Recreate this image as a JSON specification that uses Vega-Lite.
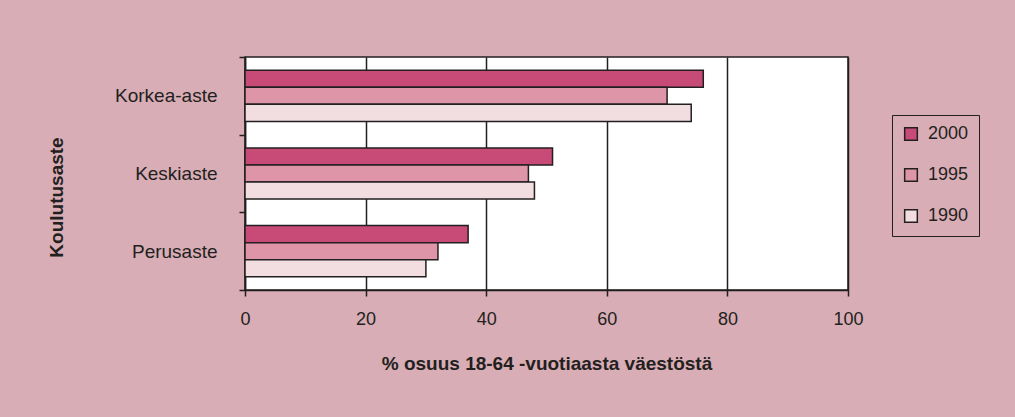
{
  "$schema": "https://vega.github.io/schema/vega-lite/v6.json",
  "width": 603,
  "height": 233,
  "autosize": {"type": "none"},
  "padding": {"left": 245, "top": 57, "right": 167, "bottom": 127},
  "background": "#d8adb5",
  "config": {
    "font": "Liberation Sans",
    "view": {"fill": "#ffffff", "stroke": "#231f20", "strokeWidth": 1.5},
    "axis": {"domainColor": "#231f20", "tickColor": "#231f20", "labelColor": "#231f20", "titleColor": "#231f20", "domainWidth": 1.5, "tickWidth": 1.5}
  },
  "data": {
    "values": [
      {"koulutusaste": "Korkea-aste", "vuosi": "2000", "osuus": 76},
      {"koulutusaste": "Korkea-aste", "vuosi": "1995", "osuus": 70},
      {"koulutusaste": "Korkea-aste", "vuosi": "1990", "osuus": 74},
      {"koulutusaste": "Keskiaste", "vuosi": "2000", "osuus": 51},
      {"koulutusaste": "Keskiaste", "vuosi": "1995", "osuus": 47},
      {"koulutusaste": "Keskiaste", "vuosi": "1990", "osuus": 48},
      {"koulutusaste": "Perusaste", "vuosi": "2000", "osuus": 37},
      {"koulutusaste": "Perusaste", "vuosi": "1995", "osuus": 32},
      {"koulutusaste": "Perusaste", "vuosi": "1990", "osuus": 30}
    ]
  },
  "mark": {"type": "bar", "stroke": "#231f20", "strokeWidth": 1.5, "cornerRadius": 0},
  "encoding": {
    "y": {
      "field": "koulutusaste",
      "type": "nominal",
      "sort": ["Korkea-aste", "Keskiaste", "Perusaste"],
      "scale": {"paddingInner": 0, "paddingOuter": 0},
      "axis": {
        "title": "Koulutusaste",
        "titleFontSize": 19,
        "titleFontWeight": "bold",
        "titlePadding": 48,
        "titleY": 140,
        "labelFontSize": 19,
        "labelFontWeight": "normal",
        "labelPadding": 22,
        "tickSize": 6,
        "tickBand": "extent",
        "grid": false
      }
    },
    "yOffset": {
      "field": "vuosi",
      "type": "nominal",
      "sort": ["2000", "1995", "1990"],
      "scale": {"paddingInner": 0, "paddingOuter": 0.78}
    },
    "x": {
      "field": "osuus",
      "type": "quantitative",
      "scale": {"domain": [0, 100], "nice": false},
      "axis": {
        "title": "% osuus 18-64 -vuotiaasta väestöstä",
        "titleFontSize": 19,
        "titleFontWeight": "bold",
        "titlePadding": 26,
        "labelFontSize": 18,
        "labelPadding": 14,
        "labelFlush": false,
        "tickSize": 6,
        "values": [0, 20, 40, 60, 80, 100],
        "grid": true,
        "gridColor": "#231f20",
        "gridWidth": 1.5,
        "gridOpacity": 1
      }
    },
    "fill": {
      "field": "vuosi",
      "type": "nominal",
      "sort": ["2000", "1995", "1990"],
      "scale": {"domain": ["2000", "1995", "1990"], "range": ["#c84b77", "#de95a8", "#f2dde1"]},
      "legend": {
        "title": null,
        "orient": "none",
        "legendX": 647,
        "legendY": 58,
        "symbolType": "square",
        "symbolSize": 160,
        "symbolStrokeColor": "#231f20",
        "symbolStrokeWidth": 1.5,
        "symbolOpacity": 1,
        "labelFontSize": 18,
        "labelColor": "#231f20",
        "rowPadding": 21,
        "padding": 10,
        "strokeColor": "#231f20",
        "labelOffset": 8
      }
    }
  }
}
